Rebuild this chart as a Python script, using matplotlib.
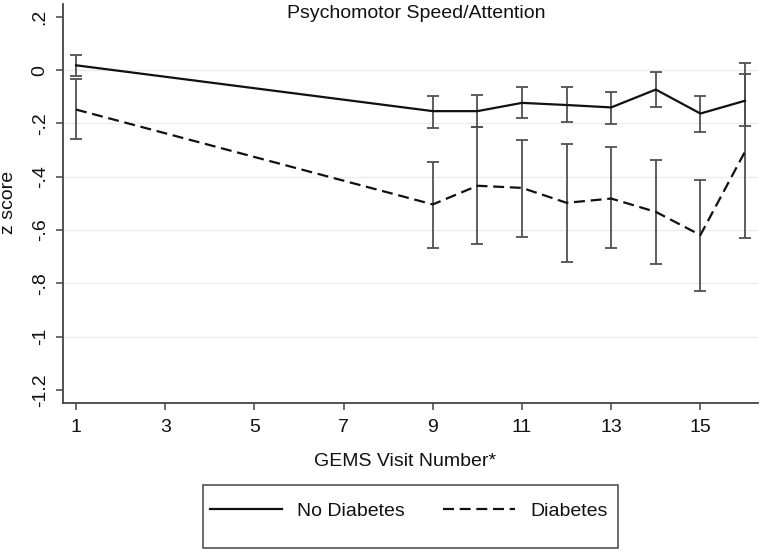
import matplotlib
matplotlib.use("Agg")
import matplotlib.pyplot as plt
from matplotlib.patches import Rectangle

plt.rcParams['font.family'] = ['Liberation Sans', 'DejaVu Sans']
plt.rcParams['lines.scale_dashes'] = False

# visits and z scores (mean, lower CI, upper CI)
visits = [1, 9, 10, 11, 12, 13, 14, 15, 16]

no_diab_mean = [0.018, -0.154, -0.154, -0.123, -0.131, -0.140, -0.073, -0.163, -0.115]
no_diab_lo = [-0.023, -0.216, -0.213, -0.181, -0.194, -0.203, -0.138, -0.231, -0.210]
no_diab_hi = [0.056, -0.096, -0.093, -0.063, -0.063, -0.081, -0.009, -0.096, -0.016]

diab_mean = [-0.148, -0.504, -0.434, -0.442, -0.498, -0.482, -0.532, -0.619, -0.306]
diab_lo = [-0.258, -0.669, -0.654, -0.625, -0.719, -0.669, -0.726, -0.829, -0.629]
diab_hi = [-0.034, -0.346, -0.213, -0.263, -0.278, -0.288, -0.338, -0.413, 0.025]

x_ticks = [1, 3, 5, 7, 9, 11, 13, 15]
y_ticks = [0.2, 0, -0.2, -0.4, -0.6, -0.8, -1, -1.2]
y_tick_labels = ['.2', '0', '-.2', '-.4', '-.6', '-.8', '-1', '-1.2']

W, H = 760, 552
fig = plt.figure(figsize=(7.6, 5.52), dpi=100)
ax = fig.add_axes([63.3 / W, 149.3 / H, (757.7 - 63.3) / W, (402.7 - 4) / H])

for yv in [0, -0.2, -0.4, -0.6, -0.8, -1]:
    ax.axhline(yv, color='#ececec', lw=1.0, zorder=0)

# error bars
for mean, lo, hi in [(no_diab_mean, no_diab_lo, no_diab_hi), (diab_mean, diab_lo, diab_hi)]:
    err = [[m - l for m, l in zip(mean, lo)], [h - m for m, h in zip(mean, hi)]]
    ax.errorbar(visits, mean, yerr=err, fmt='none', ecolor='#505050',
                elinewidth=1.3, capsize=4, capthick=1.3, zorder=2)

ax.plot(visits, no_diab_mean, color='#111111', lw=1.6, label='No Diabetes', zorder=3)
ax.plot(visits, diab_mean, color='#111111', lw=1.6, dashes=(7.9, 4.1),
        label='Diabetes', zorder=3)

ax.set_xlim(0.715, 16.285)
ax.set_ylim(-1.248, 0.248)
ax.set_xticks(x_ticks)
ax.set_yticks(y_ticks)
ax.set_yticklabels(y_tick_labels, rotation=90, va='center')

for side in ['top', 'right']:
    ax.spines[side].set_visible(False)
for side in ['left', 'bottom']:
    ax.spines[side].set_color('#444444')
    ax.spines[side].set_linewidth(1.3)
ax.tick_params(axis='both', colors='#444444', labelcolor='#111111',
               labelsize=14, length=5, width=1.1)
ax.tick_params(axis='x', pad=7)
ax.tick_params(axis='y', pad=5.5)

fig.text(416 / W, 1 - 14 / H, 'Psychomotor Speed/Attention', ha='center',
         va='center', fontsize=14, color='#111111')
fig.text(405.4 / W, 1 - 461.7 / H, 'GEMS Visit Number*', ha='center',
         va='center', fontsize=14, color='#111111')
fig.text(9 / W, 1 - 202 / H, 'z score', ha='center', va='center',
         rotation=90, fontsize=14, color='#111111')

# legend box is taller than its single row, so draw the frame separately
fig.patches.append(Rectangle((202.7 / W, 1 - 548.3 / H), (618.3 - 202.7) / W,
                             (548.3 - 485) / H, transform=fig.transFigure,
                             fill=False, edgecolor='#444444', lw=1.1))
leg = fig.legend(loc='center left', bbox_to_anchor=(210 / W, 1 - 511 / H),
                 ncol=2, fontsize=14, frameon=False, borderpad=0, borderaxespad=0,
                 handlelength=3.7, handletextpad=0.78, columnspacing=1.95)
for t in leg.get_texts():
    t.set_color('#111111')

fig.savefig('out.png', dpi=100)
